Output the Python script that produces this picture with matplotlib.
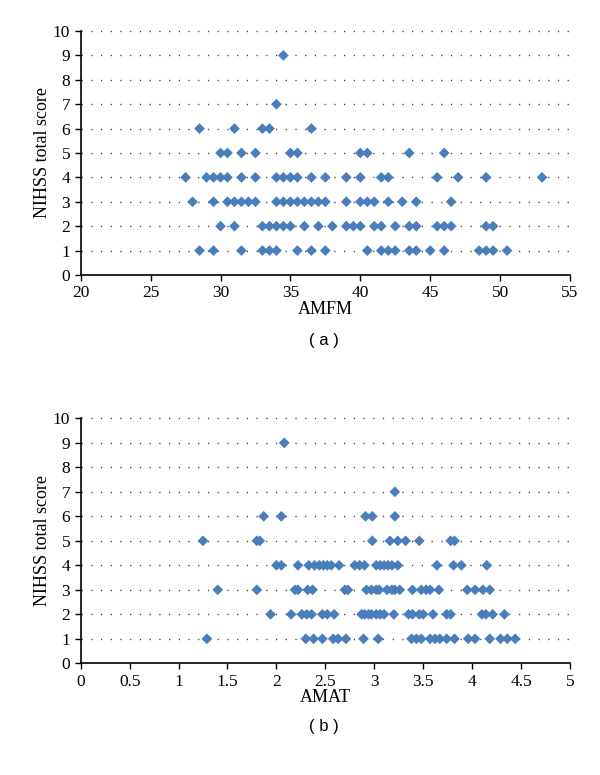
import matplotlib.pyplot as plt

# panel (a): AMFM values for each NIHSS score
amfm_1 = [28.5, 29.5, 31.5, 33, 33.5, 34, 35.5, 36.5, 37.5, 40.5, 41.5, 42, 42.5,
          43.5, 44, 45, 46, 48.5, 49, 49.5, 50.5]
amfm_2 = [30, 31, 33, 33.5, 34, 34.5, 35, 36, 37, 38, 39, 39.5, 40, 41, 41.5, 42.5,
          43.5, 44, 45.5, 46, 46.5, 49, 49.5]
amfm_3 = [28, 29.5, 30.5, 31, 31.5, 32, 32.5, 34, 34.5, 35, 35.5, 36, 36.5, 37, 37.5,
          39, 40, 40.5, 41, 42, 43, 44, 46.5]
amfm_4 = [27.5, 29, 29.5, 30, 30.5, 31.5, 32.5, 34, 34.5, 35, 35.5, 36.5, 37.5, 39,
          40, 41.5, 42, 45.5, 47, 49, 53]
amfm_5 = [30, 30.5, 31.5, 32.5, 35, 35.5, 40, 40.5, 43.5, 46]
amfm_6 = [28.5, 31, 33, 33.5, 36.5]
amfm_7 = [34]
amfm_9 = [34.5]

# panel (b): AMAT values for each NIHSS score
amat_1 = [1.29, 2.30, 2.38, 2.47, 2.58, 2.63, 2.71, 2.89, 3.04, 3.38, 3.43, 3.48,
          3.57, 3.62, 3.67, 3.74, 3.82, 3.96, 4.03, 4.18, 4.29, 4.36, 4.44]
amat_2 = [1.94, 2.15, 2.26, 2.31, 2.36, 2.47, 2.52, 2.59, 2.87, 2.90, 2.94, 2.97,
          3.02, 3.06, 3.10, 3.20, 3.35, 3.39, 3.46, 3.50, 3.60, 3.74, 3.78, 4.10,
          4.14, 4.21, 4.33]
amat_3 = [1.40, 1.80, 2.19, 2.22, 2.32, 2.37, 2.70, 2.73, 2.92, 2.97, 3.02, 3.05,
          3.13, 3.18, 3.21, 3.26, 3.39, 3.48, 3.53, 3.57, 3.66, 3.95, 4.03, 4.11, 4.18]
amat_4 = [2.00, 2.05, 2.22, 2.33, 2.39, 2.44, 2.48, 2.52, 2.56, 2.64, 2.80, 2.85,
          2.90, 3.02, 3.06, 3.10, 3.14, 3.18, 3.24, 3.64, 3.81, 3.89, 4.15]
amat_5 = [1.25, 1.80, 1.83, 2.98, 3.16, 3.24, 3.32, 3.46, 3.78, 3.82]
amat_6 = [1.87, 2.05, 2.91, 2.98, 3.21]
amat_7 = [3.21]
amat_9 = [2.08]

scores = [1, 2, 3, 4, 5, 6, 7, 9]
amfm_rows = [amfm_1, amfm_2, amfm_3, amfm_4, amfm_5, amfm_6, amfm_7, amfm_9]
amat_rows = [amat_1, amat_2, amat_3, amat_4, amat_5, amat_6, amat_7, amat_9]

amfm_ticks = [20, 25, 30, 35, 40, 45, 50, 55]
amat_ticks = [0, 0.5, 1, 1.5, 2, 2.5, 3, 3.5, 4, 4.5, 5]
amat_tick_labels = ['0', '0.5', '1', '1.5', '2', '2.5', '3', '3.5', '4', '4.5', '5']

serif = 'Liberation Serif'
blue = '#4a7ebb'

fig = plt.figure(figsize=(6, 7.75), dpi=100)
ax_a = fig.add_axes([0.1345, 0.6452, 0.8155, 0.3148])
ax_b = fig.add_axes([0.1345, 0.1441, 0.8155, 0.3161])


def style(ax, rows, xlim, xticks, xticklabels, xlabel):
    xs, ys = [], []
    for s, row in zip(scores, rows):
        xs += row
        ys += [s] * len(row)
    for yv in range(1, 11):
        ax.axhline(yv, color='#404040', linewidth=1.0, dashes=(0.9, 6.1),
                   zorder=1, clip_on=False)
    ax.scatter(xs, ys, marker='D', s=30, color=blue, edgecolors='none', zorder=3)
    ax.set_xlim(*xlim)
    ax.set_ylim(0, 10)
    ax.set_xticks(xticks)
    ax.set_xticklabels(xticklabels)
    ax.set_yticks(range(0, 11))
    ax.spines['top'].set_visible(False)
    ax.spines['right'].set_visible(False)
    for sp in ('left', 'bottom'):
        ax.spines[sp].set_linewidth(1.2)
    ax.tick_params(direction='out', length=4, width=1.0, labelsize=12.5)
    for lab in ax.get_xticklabels() + ax.get_yticklabels():
        lab.set_fontfamily(serif)
    ax.set_xlabel(xlabel, fontsize=13, family=serif, va='center')
    ax.set_ylabel('NIHSS total score', fontsize=13, family=serif, va='center')
    ax.xaxis.set_label_coords(0.5, -0.14)
    ax.yaxis.set_label_coords(-0.079, 0.5)


style(ax_a, amfm_rows, (20, 55), amfm_ticks, [str(t) for t in amfm_ticks], 'AMFM')
style(ax_b, amat_rows, (0, 5), amat_ticks, amat_tick_labels, 'AMAT')

fig.text(0.54, 1 - 341 / 775, '( a )', ha='center', va='center', fontsize=12,
         family='Liberation Sans')
fig.text(0.54, 1 - 727 / 775, '( b )', ha='center', va='center', fontsize=12,
         family='Liberation Sans')

fig.savefig('out.png', dpi=100)
